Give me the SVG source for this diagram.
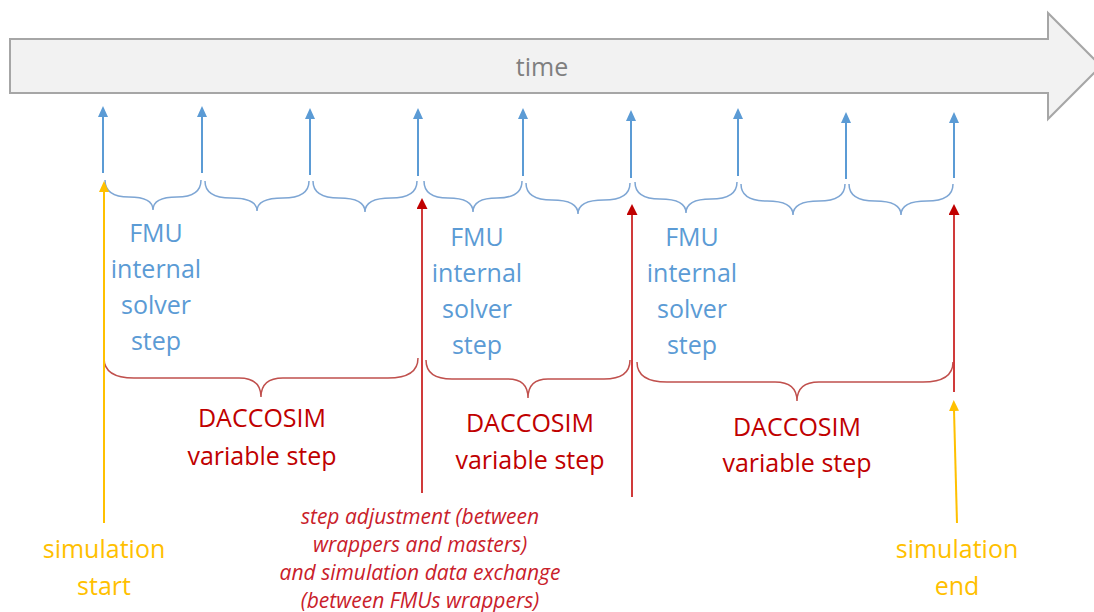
<svg xmlns="http://www.w3.org/2000/svg" width="1094" height="612" viewBox="0 0 1094 612">
<style>
.t{font-family:"Open Sans","Noto Sans",sans-serif;font-size:25px;text-anchor:middle}
.blue{fill:#5b9bd5}
.red{fill:#c00000}
.yel{fill:#ffc000}
.it{font-family:"Open Sans","Noto Sans",sans-serif;font-size:21px;font-style:italic;text-anchor:middle;fill:#c9202a}
.bl{stroke:#5b9bd5;stroke-width:2;fill:none}
.bb{stroke:#7ea6d4;stroke-width:1.5;fill:none}
.rl{stroke:#d03a3a;stroke-width:2;fill:none}
.rb{stroke:#c0504d;stroke-width:1.5;fill:none}
.yl{stroke:#ffc000;stroke-width:2;fill:none}
</style>
<defs>
<marker id="hb" viewBox="0 0 11 10" refX="1" refY="5" markerWidth="11" markerHeight="10" markerUnits="userSpaceOnUse" orient="auto"><path d="M0,0 L11,5 L0,10 z" fill="#5b9bd5"/></marker>
<marker id="hr" viewBox="0 0 11 11" refX="1" refY="5.5" markerWidth="11" markerHeight="11" markerUnits="userSpaceOnUse" orient="auto"><path d="M0,0 L11,5.5 L0,11 z" fill="#c00000"/></marker>
<marker id="hy" viewBox="0 0 11 10" refX="1" refY="5" markerWidth="11" markerHeight="10" markerUnits="userSpaceOnUse" orient="auto"><path d="M0,0 L11,5 L0,10 z" fill="#ffc000"/></marker>
</defs>

<g id="timeline">
<polygon points="10,39 1048,39 1048,13 1101,66 1048,119 1048,93 10,93" fill="#f2f2f2" stroke="#a6a6a6" stroke-width="2"/>
<text class="t" x="542" y="76" fill="#7f7f7f">time</text>
</g>

<g id="connectors">
<g id="fmu-ticks">
<line class="bl" x1="103" y1="173" x2="103" y2="116" marker-end="url(#hb)"/>
<line class="bl" x1="202" y1="173" x2="202" y2="116" marker-end="url(#hb)"/>
<line class="bl" x1="310" y1="175" x2="310" y2="118" marker-end="url(#hb)"/>
<line class="bl" x1="418" y1="176" x2="418" y2="118" marker-end="url(#hb)"/>
<line class="bl" x1="523" y1="176" x2="523" y2="118" marker-end="url(#hb)"/>
<line class="bl" x1="631" y1="178" x2="631" y2="120" marker-end="url(#hb)"/>
<line class="bl" x1="738" y1="176" x2="738" y2="118" marker-end="url(#hb)"/>
<line class="bl" x1="846" y1="179" x2="846" y2="122" marker-end="url(#hb)"/>
<line class="bl" x1="954" y1="178" x2="954" y2="122" marker-end="url(#hb)"/>
</g>
<g id="fmu-braces">
<path class="bb" d="M105,180 Q105,197 129,197 Q153,197 153,210 Q153,197 177,197 Q201,197 201,180"/>
<path class="bb" d="M205,181 Q205,198 231,198 Q257,198 257,211 Q257,198 283,198 Q309,198 309,181"/>
<path class="bb" d="M313,181 Q313,198 339,198 Q365,198 365,212 Q365,198 391,198 Q417,198 417,181"/>
<path class="bb" d="M424,181 Q424,198 448,198 Q473,198 473,212 Q473,198 497,198 Q522,198 522,181"/>
<path class="bb" d="M526,183 Q526,200 552,200 Q578,200 578,214 Q578,200 604,200 Q630,200 630,183"/>
<path class="bb" d="M635,182 Q635,199 660,199 Q686,199 686,213 Q686,199 711,199 Q737,199 737,182"/>
<path class="bb" d="M741,184 Q741,201 767,201 Q793,201 793,215 Q793,201 819,201 Q845,201 845,184"/>
<path class="bb" d="M849,184 Q849,201 875,201 Q901,201 901,215 Q901,201 927,201 Q953,201 953,184"/>
</g>
<g id="daccosim-braces">
<path class="rb" d="M104,358 Q104,378 134,378 L239,378 Q261,378 261,397 Q261,378 283,378 L388,378 Q418,378 418,358"/>
<path class="rb" d="M426,360 Q426,379 452,379 L508,379 Q528,379 528,398 Q528,379 548,379 L604,379 Q630,379 630,360"/>
<path class="rb" d="M637,362 Q637,382 667,382 L775,382 Q797,382 797,401 Q797,382 819,382 L923,382 Q953,382 953,362"/>
</g>
<g id="daccosim-arrows">
<line class="rl" x1="422" y1="493" x2="422" y2="208" marker-end="url(#hr)"/>
<line class="rl" x1="632" y1="497" x2="632" y2="214" marker-end="url(#hr)"/>
<line class="rl" x1="954" y1="392" x2="954" y2="214" marker-end="url(#hr)"/>
</g>
<g id="sim-arrows">
<line class="yl" x1="104" y1="523" x2="104" y2="191" marker-end="url(#hy)"/>
<line class="yl" x1="957" y1="523" x2="954" y2="410" marker-end="url(#hy)"/>
</g>
</g>

<g id="fmu-step-1">
<text class="t blue" x="156" y="242">FMU</text>
<text class="t blue" x="156" y="278">internal</text>
<text class="t blue" x="156" y="314">solver</text>
<text class="t blue" x="156" y="350">step</text>
</g>
<g id="fmu-step-2">
<text class="t blue" x="477" y="246">FMU</text>
<text class="t blue" x="477" y="282">internal</text>
<text class="t blue" x="477" y="318">solver</text>
<text class="t blue" x="477" y="354">step</text>
</g>
<g id="fmu-step-3">
<text class="t blue" x="692" y="246">FMU</text>
<text class="t blue" x="692" y="282">internal</text>
<text class="t blue" x="692" y="318">solver</text>
<text class="t blue" x="692" y="354">step</text>
</g>

<g id="daccosim-step-1">
<text class="t red" x="262" y="427">DACCOSIM</text>
<text class="t red" x="262" y="465">variable step</text>
</g>
<g id="daccosim-step-2">
<text class="t red" x="530" y="432">DACCOSIM</text>
<text class="t red" x="530" y="469">variable step</text>
</g>
<g id="daccosim-step-3">
<text class="t red" x="797" y="436">DACCOSIM</text>
<text class="t red" x="797" y="472">variable step</text>
</g>

<g id="step-adjustment">
<text class="it" x="420" y="524">step adjustment (between</text>
<text class="it" x="420" y="552">wrappers and masters)</text>
<text class="it" x="420" y="580">and simulation data exchange</text>
<text class="it" x="420" y="608">(between FMUs wrappers)</text>
</g>

<g id="sim-start">
<text class="t yel" x="104" y="558">simulation</text>
<text class="t yel" x="104" y="595">start</text>
</g>
<g id="sim-end">
<text class="t yel" x="957" y="558">simulation</text>
<text class="t yel" x="957" y="595">end</text>
</g>
</svg>
